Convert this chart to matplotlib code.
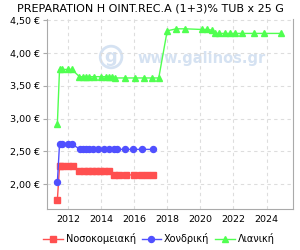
import matplotlib
matplotlib.use("Agg")
import matplotlib.pyplot as plt
from matplotlib.ticker import FuncFormatter

title = "PREPARATION H OINT.REC.A (1+3)% TUB x 25 G"
series_names = ["Νοσοκομειακή", "Χονδρική", "Λιανική"]

hosp_x = [2011.37, 2011.5, 2011.65, 2012.0, 2012.3, 2012.7, 2012.95, 2013.2, 2013.45, 2013.7,
          2013.95, 2014.2, 2014.5, 2014.76, 2015.1, 2015.5, 2015.97, 2016.4, 2016.8, 2017.15]
hosp_y = [1.76, 2.27, 2.27, 2.27, 2.27, 2.20, 2.20, 2.20, 2.20, 2.20,
          2.20, 2.20, 2.20, 2.14, 2.14, 2.14, 2.14, 2.14, 2.14, 2.14]

whole_x = [2011.37, 2011.5, 2011.65, 2012.0, 2012.25, 2012.75, 2012.9, 2013.1, 2013.3, 2013.5,
           2013.8, 2014.2, 2014.5, 2014.76, 2014.97, 2015.47, 2015.96, 2016.5, 2017.15]
whole_y = [2.03, 2.61, 2.61, 2.61, 2.61, 2.53, 2.53, 2.53, 2.53, 2.53,
           2.53, 2.53, 2.53, 2.53, 2.53, 2.53, 2.53, 2.53, 2.53]

retail_x = [2011.37, 2011.5, 2011.65, 2012.0, 2012.25, 2012.7, 2012.9, 2013.1, 2013.3, 2013.6,
            2014.0, 2014.3, 2014.5, 2014.67, 2014.87, 2015.47, 2016.08, 2016.58, 2017.09, 2017.49,
            2018.0, 2018.55, 2019.1, 2020.1, 2020.4, 2020.7, 2020.87, 2021.1, 2021.5, 2021.8,
            2022.1, 2022.5, 2023.25, 2023.85, 2024.86]
retail_y = [2.92, 3.75, 3.75, 3.75, 3.75, 3.64, 3.64, 3.64, 3.64, 3.64,
            3.64, 3.64, 3.64, 3.64, 3.62, 3.62, 3.62, 3.62, 3.62, 3.62,
            4.34, 4.37, 4.37, 4.36, 4.36, 4.35, 4.30, 4.30, 4.30, 4.30,
            4.30, 4.30, 4.30, 4.30, 4.30]

yticks = [2.00, 2.50, 3.00, 3.50, 4.00, 4.50]
xticks = [2012, 2014, 2016, 2018, 2020, 2022, 2024]

red, blue, green = "#ff5050", "#5050ff", "#50ff50"

fig = plt.figure(figsize=(3, 2.5), dpi=100)
ax = fig.add_axes([0.157, 0.164, 0.82, 0.76])

ms = 4.3
ax.plot(hosp_x, hosp_y, color=red, marker="s", markersize=ms, linewidth=1, label=series_names[0])
ax.plot(whole_x, whole_y, color=blue, marker="o", markersize=ms, linewidth=1, label=series_names[1])
ax.plot(retail_x, retail_y, color=green, marker="^", markersize=ms + 0.5, linewidth=1, label=series_names[2])

ax.text(0.63, 0.79, "www.galinos.gr", transform=ax.transAxes, fontsize=10.5, fontweight="bold",
        color="#d5e2f2", ha="center", va="center", zorder=0)
ax.text(0.26, 0.80, "g", transform=ax.transAxes, fontsize=13, fontweight="bold",
        color="#d5e2f2", ha="center", va="center", zorder=0,
        bbox=dict(boxstyle="circle,pad=0.1", fc="none", ec="#d5e2f2", lw=2))

ax.set_xlim(2010.75, 2025.6)
ax.set_ylim(1.62, 4.52)
ax.set_xticks(xticks)
ax.set_yticks(yticks)
ax.yaxis.set_major_formatter(FuncFormatter(lambda v, p: f"{v:.2f} €".replace(".", ",")))
ax.tick_params(labelsize=6.8, length=3, color="#aaaaaa")
ax.tick_params(axis="y", pad=2)
ax.tick_params(axis="x", length=0, pad=4)
ax.grid(True, linestyle=(0, (3, 3)), color="#dddddd", linewidth=0.8)
for s in ["left", "bottom", "right"]:
    ax.spines[s].set_color("#aaaaaa")
ax.spines["top"].set_visible(False)

fig.text(0.5, 0.965, title, ha="center", va="center", fontsize=8)
fig.legend(loc="center", bbox_to_anchor=(0.53, 0.045), ncol=3, frameon=False, fontsize=7,
           handlelength=2, handletextpad=0.3, columnspacing=0.6, markerscale=1)

fig.savefig("out.png", dpi=100)
